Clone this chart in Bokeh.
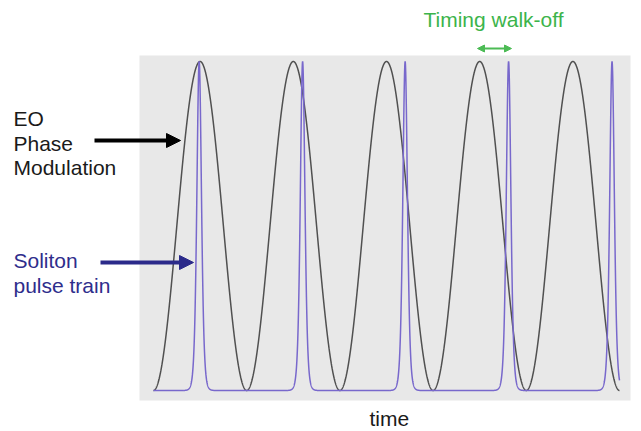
import numpy as np
from bokeh.plotting import figure
from bokeh.models import Range1d, Label, Arrow, NormalHead
from bokeh.embed import file_html
from bokeh.resources import INLINE

# ---- data (time in units of the EO modulation period) ----
mod_periods = 5                      # number of EO modulation periods shown
pulse_times = [0.49, 1.60, 2.70, 3.81, 4.92]   # soliton pulse centres
pulse_heights = [1.0, 1.0, 1.0, 1.0, 1.0]
pulse_tau = 0.033                    # sech^2 pulse width
train_end = 5.0

t = np.linspace(0, mod_periods, 5001)
eo = (1 - np.cos(2 * np.pi * t)) / 2
sol = np.zeros_like(t)
for tc, h in zip(pulse_times, pulse_heights):
    sol += h / np.cosh((t - tc) / pulse_tau) ** 2
mask = t <= train_end

W, H = 640, 430
OX, OY = 0, 0   # page offset of the canvas
# pixel mapping: page_x = 153 + 93.2*t ; page_y = 390 - 329*y
x0 = (OX - 153) / 93.2
x1 = (OX + W - 153) / 93.2
y1 = (390 - OY) / 329
y0 = (390 - (OY + H)) / 329

p = figure(width=W, height=H, output_backend="svg", toolbar_location=None,
           x_range=Range1d(x0, x1), y_range=Range1d(y0, y1),
           min_border=0, background_fill_color="white", border_fill_color="white")
p.axis.visible = False
p.grid.visible = False
p.outline_line_color = None

# grey panel
p.quad(left=[(139 - 153) / 93.2], right=[(630 - 153) / 93.2],
       bottom=[(390 - 400) / 329], top=[(390 - 55) / 329],
       fill_color="#e8e8e8", line_color=None)

p.line(t, eo, line_color="#505050", line_width=1.5)
p.line(t[mask], sol[mask], line_color="#7868cc", line_width=1.5)

FONT = "Liberation Sans"
FS = "21px"
TXT_SHIFT = 7

def lab(text, px, base, color):
    p.add_layout(Label(x=px - OX, y=(OY + H) - base + TXT_SHIFT, x_units="screen", y_units="screen",
                       text=text, text_font=FONT, text_font_size=FS,
                       text_color=color, text_baseline="alphabetic"))

lab("EO", 13, 125, "#1a1a1a")
lab("Phase", 13, 150, "#1a1a1a")
lab("Modulation", 13, 174, "#1a1a1a")
lab("Soliton", 13, 267, "#2e2d8c")
lab("pulse train", 13, 292, "#2e2d8c")
lab("Timing walk-off", 423, 26, "#3cb44b")
lab("time", 369, 425, "#1a1a1a")

def arr(xa, xb, py, color, lw, size, both=False):
    yy = (OY + H) - py
    kw = {}
    if both:
        kw["start"] = NormalHead(size=size, fill_color=color, line_color=color)
    p.add_layout(Arrow(x_start=xa - OX, y_start=yy, x_end=xb - OX, y_end=yy,
                       start_units="screen", end_units="screen",
                       line_color=color, line_width=lw,
                       end=NormalHead(size=size, fill_color=color, line_color=color), **kw))

arr(94, 180, 140, "#000000", 4, 14)
arr(100, 193, 262, "#2b2a8a", 4, 14)
arr(477, 511, 48, "#4cbb55", 2, 7, both=True)

open("out.html", "w").write(file_html(p, INLINE))
